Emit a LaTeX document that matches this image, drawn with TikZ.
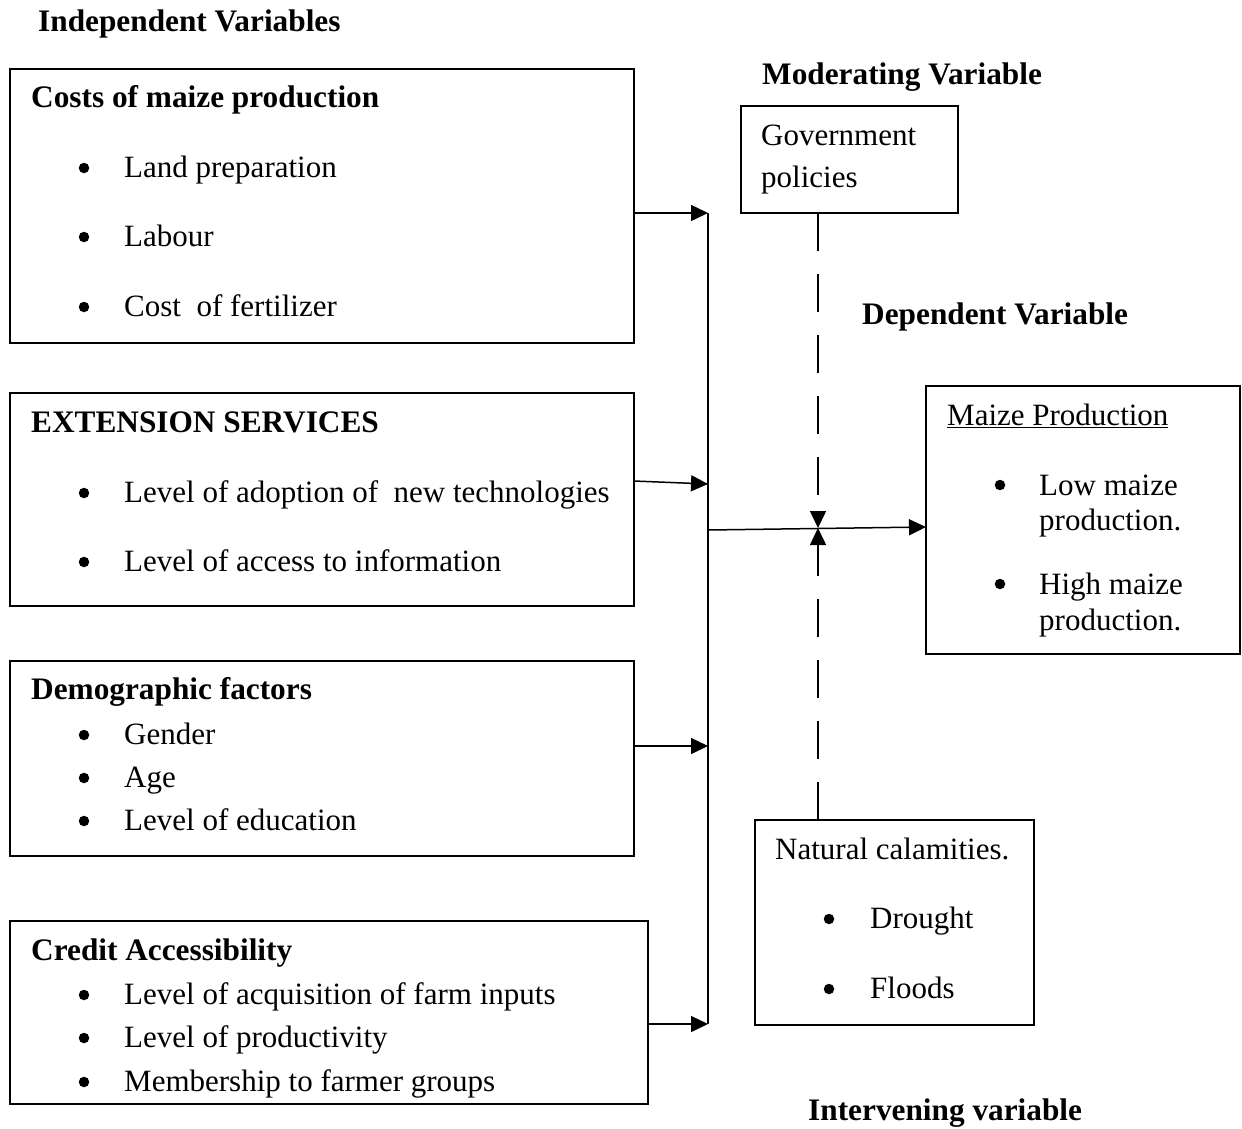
\documentclass[tikz,border=0pt]{standalone}
\usepackage{fontspec}
\setmainfont{Liberation Serif}
\usetikzlibrary{arrows.meta}
\begin{document}
\begin{tikzpicture}[x=1pt,y=-1pt,
  box/.style={draw, line width=1.5pt, anchor=north west, inner sep=0pt, outer sep=0pt},
  txt/.style={anchor=base west, inner sep=0pt, font=\fontsize{31}{35}\selectfont},
  ttl/.style={anchor=base west, inner sep=0pt, font=\fontsize{31.3}{35}\selectfont\bfseries},
  bul/.style={circle, fill=black, inner sep=0pt, minimum size=10.5pt},
  arr/.style={line width=1.5pt, -{Triangle[length=17pt,width=16pt]}},
  conn/.style={line width=1.5pt},
  dsh/.style={line width=1.5pt, dash pattern=on 38pt off 23pt, -{Triangle[length=17pt,width=16pt]}}]
\useasboundingbox (0,0) rectangle (1242,1128);
% headings
\node[ttl] (hind) at (38,31) {Independent Variables};
\node[ttl] (hmod) at (762,84) {Moderating Variable};
\node[ttl] (hdep) at (862,324) {Dependent Variable};
\node[ttl] (hint) at (808,1120) {Intervening variable};
% boxes
\node[box, minimum width=624pt, minimum height=274pt] (b1) at (10,69) {};
\node[box, minimum width=624pt, minimum height=213pt] (b2) at (10,393) {};
\node[box, minimum width=624pt, minimum height=195pt] (b3) at (10,661) {};
\node[box, minimum width=638pt, minimum height=183pt] (b4) at (10,921) {};
\node[box, minimum width=217pt, minimum height=107pt] (gov) at (741,106) {};
\node[box, minimum width=279pt, minimum height=205pt] (nat) at (755,820) {};
\node[box, minimum width=314pt, minimum height=268pt] (mp) at (926,386) {};
% box 1
\node[ttl] (t1) at (31,107) {Costs of maize production};
\node[bul] (b1a) at (84,168) {}; \node[txt] (t1a) at (124,177) {Land preparation};
\node[bul] (b1b) at (84,237) {}; \node[txt] (t1b) at (124,246) {Labour};
\node[bul] (b1c) at (84,307) {}; \node[txt] (t1c) at (124,316) {Cost\ \ of fertilizer};
% box 2
\node[ttl] (t2) at (31,432) {EXTENSION SERVICES};
\node[bul] (b2a) at (84,493) {}; \node[txt] (t2a) at (124,502) {Level of adoption of\ \ new technologies};
\node[bul] (b2b) at (84,562) {}; \node[txt] (t2b) at (124,571) {Level of access to information};
% box 3
\node[ttl] (t3) at (31,699) {Demographic factors};
\node[bul] (b3a) at (84,735) {}; \node[txt] (t3a) at (124,744) {Gender};
\node[bul] (b3b) at (84,778) {}; \node[txt] (t3b) at (124,787) {Age};
\node[bul] (b3c) at (84,821) {}; \node[txt] (t3c) at (124,830) {Level of education};
% box 4
\node[ttl] (t4) at (31,960) {Credit Accessibility};
\node[bul] (b4a) at (84,995) {}; \node[txt] (t4a) at (124,1004) {Level of acquisition of farm inputs};
\node[bul] (b4b) at (84,1038) {}; \node[txt] (t4b) at (124,1047) {Level of productivity};
\node[bul] (b4c) at (84,1082) {}; \node[txt] (t4c) at (124,1091) {Membership to farmer groups};
% government
\node[txt] (g1) at (761,145) {Government};
\node[txt] (g2) at (761,187) {policies};
% natural
\node[txt] (n0) at (775,859) {Natural calamities.};
\node[bul] (nba) at (829,919) {}; \node[txt] (n1) at (870,928) {Drought};
\node[bul] (nbb) at (829,989) {}; \node[txt] (n2) at (870,998) {Floods};
% maize production
\node[txt] (m0) at (947,425) {\underline{Maize Production}};
\node[bul] (mba) at (1000,485) {}; \node[txt] (m1) at (1039,495) {Low maize};
\node[txt] (m1b) at (1039,530) {production.};
\node[bul] (mbb) at (1000,584) {}; \node[txt] (m2) at (1039,594) {High maize};
\node[txt] (m2b) at (1039,630) {production.};
% connectors
\coordinate (j1) at (708,213);
\coordinate (j2) at (708,484);
\coordinate (j3) at (708,746);
\coordinate (j4) at (708,1024);
\coordinate (jm) at (708,530);
\coordinate (x) at (818,528);
\draw[conn] (j1) -- (j4);
\draw[arr] (b1.east |- j1) -- (j1);
\draw[arr] (634,481) -- (j2);
\draw[arr] (b3.east |- j3) -- (j3);
\draw[arr] (b4.east |- j4) -- (j4);
\draw[arr] (jm) -- (mp.west |- 0,527);
\draw[dsh] (gov.south -| x) -- (x);
\draw[dsh] (nat.north -| x) -- (x);
\end{tikzpicture}
\end{document}
